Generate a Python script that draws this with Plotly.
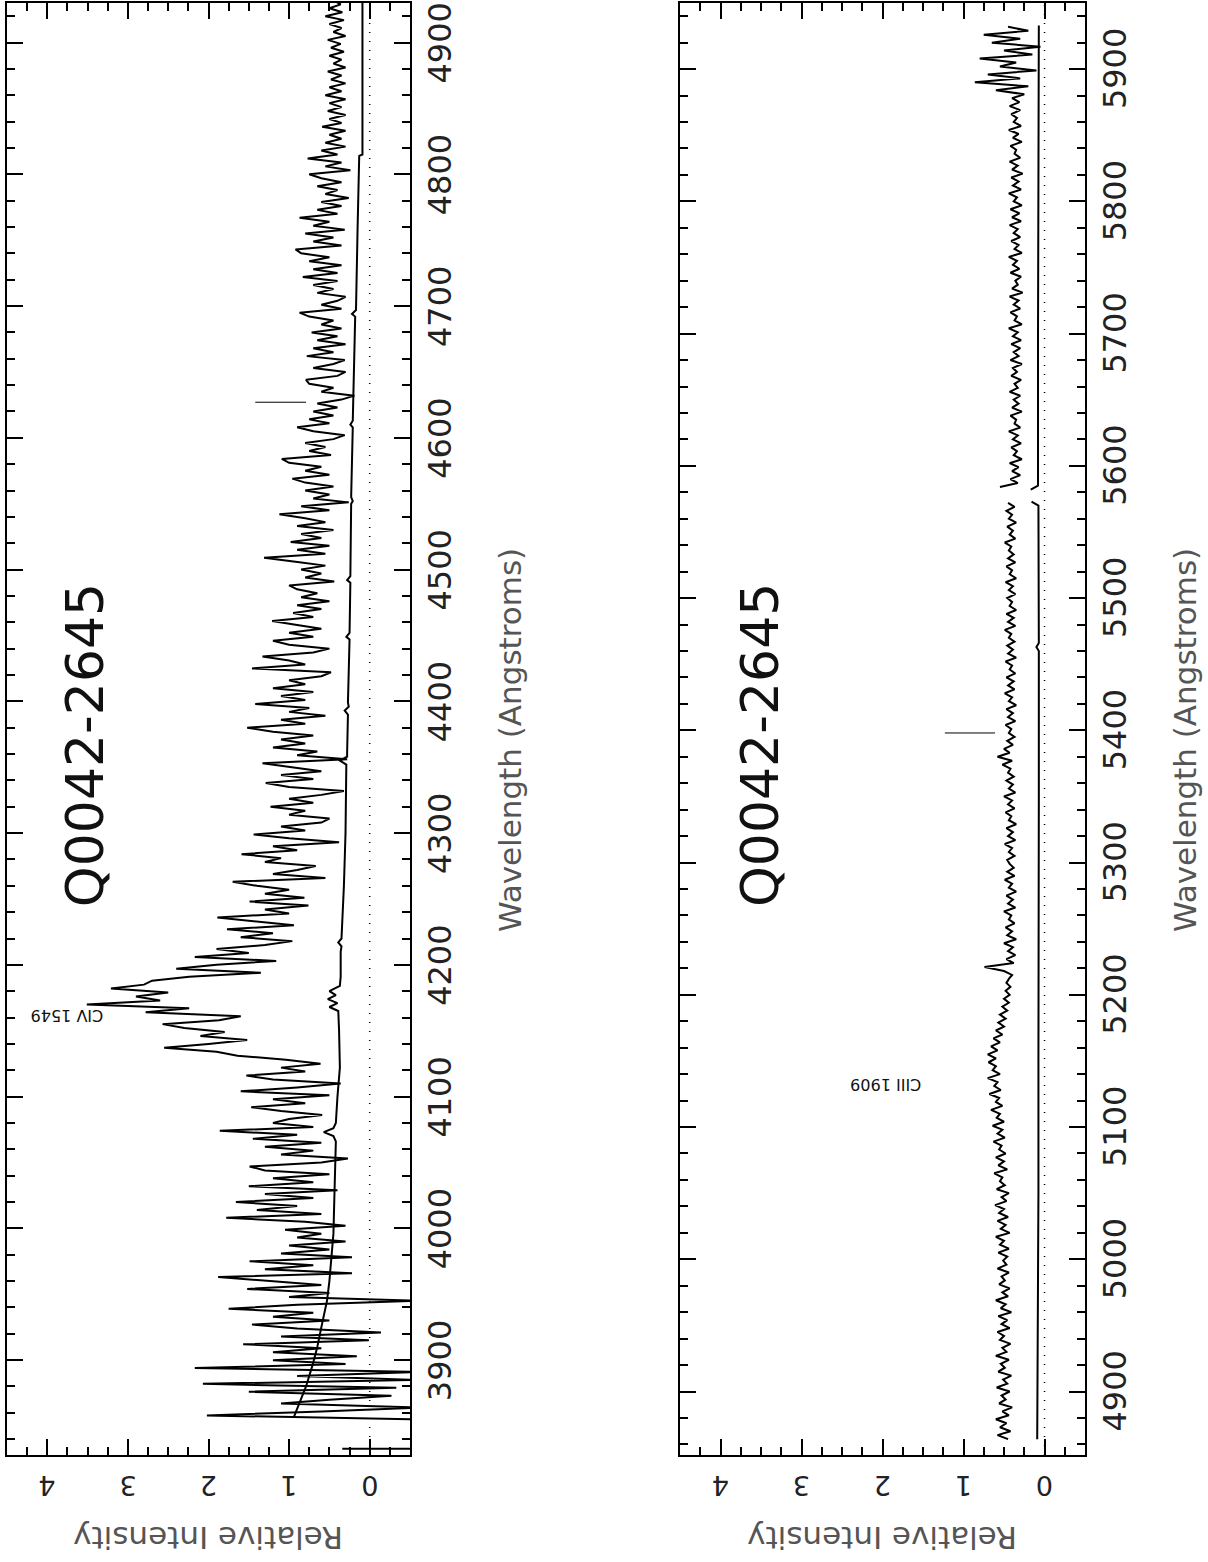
import plotly.graph_objects as go

# ---------------- DATA ----------------
STEP = 3.0
# Top panel flux, segments (start wavelength, values every 3 A)
TOP_A_START = 3855
TOP_A = [-0.6, 2.02, 0.6, -0.6, 1.1, 0.5, -0.27, 1.5, -0.33, 2.07, -0.6, 0.9, -0.6, 2.17, 0.3, 1.2]
TOP_B_START = 3903
TOP_B = [0.16, 1.2, 0.6, 1.57, 0.01, 1.1, -0.14, 0.9, 1.46, 0.5, 1.2, 0.7, 1.75, 0.9, -0.6, 1.0, 0.5, 1.52, 0.6, 1.3]
TOP_C_START = 3963
TOP_C = [1.88, 0.22, 1.3, 0.7, 1.49, 0.22, 1.1, 0.5, 1.0, 0.3, 0.9, 0.6, 1.05, 0.3, 0.8, 1.78, 0.6, 1.4, 0.9, 1.66, 0.7, 1.3, 0.4]
TOP_D_START = 4032
TOP_D = [1.5, 0.7, 1.2, 0.5, 1.3, 1.49, 0.6, 0.27, 1.1, 0.7, 1.3, 0.6, 1.45, 0.9, 1.86, 0.7, 1.2, 1.0, 0.59, 1.1, 1.47, 0.8, 1.2, 0.5]
TOP_E_START = 4104
TOP_E = [1.6, 0.9, 0.36, 1.2, 1.53, 0.8, 1.1, 0.61, 1.04]
TOP_F_START = 4131
TOP_F = [1.64, 1.9, 2.55, 2.0, 1.52, 2.1, 1.8, 2.3, 2.57, 1.87, 1.6, 2.78, 2.24, 3.51, 2.6, 2.9, 2.5, 3.21, 2.8, 2.7, 2.24, 1.35, 2.4, 1.9]
TOP_G_START = 4203
TOP_G = [1.16, 2.17, 1.5, 1.9, 1.3, 0.96, 1.6, 1.2, 1.77, 0.94, 1.4, 1.89, 1.0]
TOP_H_START = 4242
TOP_H = [1.3, 0.76, 1.49, 0.81, 1.3, 1.0, 1.4, 1.7, 0.55, 1.2, 0.9, 0.67, 1.3, 1.1, 1.59, 0.9, 1.2]
TOP_I_START = 4293
TOP_I = [0.38, 1.0, 1.44, 0.8, 1.1, 0.6, 0.5, 1.0, 0.8, 1.23, 0.7, 1.0, 0.6, 0.32, 1.0, 1.29, 0.7, 1.1, 0.6, 1.0, 1.33, 0.28, 0.9]
TOP_J_START = 4362
TOP_J = [0.65, 1.2, 0.8, 1.1, 0.7, 1.2, 1.52, 0.8, 1.1, 0.55, 1.0, 0.75, 1.42, 0.8, 1.1, 0.7, 1.2, 0.8, 1.0, 0.6, 0.48, 1.46, 0.8, 1.0]
TOP_K_START = 4434
TOP_K = [1.33, 0.7, 0.5, 1.0, 1.2, 0.7, 1.0, 0.6, 0.9, 1.21, 0.7, 0.95, 0.6, 0.9, 0.5, 0.85, 0.65, 0.9, 1.0, 0.44, 0.8, 0.6, 0.85, 0.55, 0.92]
TOP_L_START = 4509
TOP_L = [1.31, 0.55, 0.9, 0.5, 0.98, 0.6, 0.85, 0.45, 0.9, 0.55, 0.8, 1.12, 0.5, 0.85, 0.26, 0.7, 0.5, 0.8, 0.45]
TOP_M_START = 4566
TOP_M = [0.8, 0.96, 0.5, 0.8, 0.6, 1.0, 1.09, 0.48, 0.75, 0.55, 0.8, 0.45, 0.31, 0.7, 0.9, 0.5, 0.75, 0.45, 0.7, 0.4, 0.65, 0.35, 0.19, 0.6, 0.45, 0.75]
TOP_N_START = 4644
TOP_N = [0.79, 0.4, 0.3, 0.7, 0.45, 0.31, 0.78, 0.45, 0.7, 0.3, 0.65, 0.4, 0.72, 0.35, 0.6, 0.45, 0.75, 0.87, 0.35, 0.6, 0.4, 0.3, 0.65, 0.45, 0.7, 0.4]
TOP_O_START = 4722
TOP_O = [0.83, 0.4, 0.7, 0.35, 0.75, 0.5, 0.85, 0.92, 0.35, 0.7, 0.45, 0.8, 0.31, 0.7, 0.5, 0.87, 0.4, 0.65, 0.35, 0.6, 0.26, 0.55, 0.4, 0.65, 0.35, 0.6, 0.75]
TOP_P_START = 4803
TOP_P = [0.24, 0.55, 0.35, 0.77, 0.4, 0.6, 0.3, 0.55, 0.35, 0.5, 0.3, 0.59, 0.35, 0.5, 0.3, 0.52, 0.35, 0.5, 0.3, 0.55]
TOP_Q_START = 4863
TOP_Q = [0.35, 0.5, 0.3, 0.48, 0.35, 0.52, 0.3, 0.45, 0.35, 0.5, 0.32, 0.48, 0.36, 0.52, 0.3, 0.45, 0.35, 0.5, 0.32, 0.55, 0.34, 0.5, 0.36, 0.45]

# Top panel error / continuum trace
TOP_ERR_WAVE = [3857, 3870, 3880, 3896, 3910, 3925, 3945, 3960, 3975, 3996, 4020, 4045, 4066, 4070, 4073, 4076,
                4080, 4100, 4122, 4150, 4165, 4168, 4171, 4174, 4177, 4180, 4184, 4191, 4210, 4214, 4217, 4220,
                4260, 4300, 4340, 4352, 4355, 4358, 4361, 4390, 4393, 4396, 4399, 4447, 4449, 4452, 4490, 4492,
                4495, 4550, 4552, 4555, 4608, 4610, 4613, 4660, 4692, 4694, 4697, 4760, 4814, 4815, 4932]
TOP_ERR_VAL = [0.94, 0.85, 0.79, 0.71, 0.65, 0.6, 0.53, 0.5, 0.48, 0.45, 0.44, 0.43, 0.42, 0.45, 0.57, 0.45,
               0.42, 0.40, 0.37, 0.38, 0.39, 0.5, 0.4, 0.52, 0.42, 0.5, 0.37, 0.36, 0.36, 0.35, 0.39, 0.35,
               0.32, 0.30, 0.29, 0.29, 0.37, 0.28, 0.28, 0.27, 0.31, 0.26, 0.27, 0.25, 0.29, 0.25, 0.24, 0.28,
               0.24, 0.23, 0.21, 0.23, 0.21, 0.24, 0.21, 0.19, 0.18, 0.22, 0.17, 0.15, 0.13, 0.09, 0.09]
TOP_STUB_WAVE = [3832.7, 3832.7]
TOP_STUB_VAL = [0.34, -0.6]

# Bottom panel flux segments
BOT_1_START = 4864
BOT_1 = [0.45, 0.58, 0.42, 0.55, 0.47, 0.6, 0.44, 0.52, 0.4, 0.56, 0.48, 0.53, 0.43, 0.59, 0.46, 0.51,
         0.41, 0.57, 0.49, 0.54, 0.44, 0.6, 0.47, 0.52, 0.42, 0.55, 0.5, 0.58, 0.43, 0.53, 0.46, 0.57,
         0.41, 0.54, 0.48, 0.6, 0.45, 0.52, 0.43, 0.56, 0.49, 0.53, 0.44, 0.58, 0.47, 0.51]
BOT_2_START = 5002
BOT_2 = [0.46, 0.57, 0.44, 0.55, 0.5, 0.6, 0.43, 0.54, 0.48, 0.58, 0.45, 0.56, 0.5, 0.61, 0.47, 0.53,
         0.44, 0.59, 0.49, 0.55, 0.52, 0.62, 0.46, 0.57, 0.5, 0.6, 0.48, 0.56, 0.53, 0.63, 0.49, 0.58,
         0.52, 0.64, 0.5, 0.59, 0.55, 0.66, 0.52, 0.6, 0.56, 0.68, 0.54, 0.62, 0.58, 0.7, 0.55, 0.64, 0.6, 0.69]
BOT_3_START = 5152
BOT_3 = [0.6, 0.7, 0.58, 0.66, 0.55, 0.63, 0.52, 0.6, 0.5, 0.57, 0.48, 0.55, 0.46, 0.52, 0.44, 0.5,
         0.43, 0.48, 0.42, 0.47]
BOT_4_START = 5212
BOT_4 = [0.44, 0.4, 0.5, 0.74, 0.38, 0.47, 0.36, 0.45, 0.39, 0.5, 0.35, 0.46, 0.4, 0.48, 0.37, 0.44,
         0.41, 0.5, 0.36, 0.45, 0.39, 0.47, 0.35, 0.44, 0.4, 0.49, 0.37, 0.46, 0.38, 0.43]
BOT_5_START = 5302
BOT_5 = [0.46, 0.37, 0.44, 0.4, 0.49, 0.36, 0.45, 0.39, 0.47, 0.35, 0.44, 0.41, 0.48, 0.37, 0.45, 0.4,
         0.5, 0.36, 0.44, 0.39, 0.47, 0.38, 0.45, 0.42, 0.52, 0.4, 0.58, 0.43, 0.5, 0.39, 0.46, 0.37, 0.44]
BOT_6_START = 5401
BOT_6 = [0.41, 0.48, 0.36, 0.45, 0.39, 0.47, 0.35, 0.44, 0.4, 0.49, 0.37, 0.45, 0.38, 0.47, 0.36, 0.43,
         0.4, 0.48, 0.35, 0.45, 0.39, 0.46, 0.37, 0.44, 0.41, 0.49, 0.36, 0.45, 0.38, 0.47, 0.35, 0.43, 0.4]
BOT_7_START = 5500
BOT_7 = [0.46, 0.36, 0.44, 0.39, 0.48, 0.35, 0.43, 0.4, 0.47, 0.36, 0.45, 0.38, 0.44, 0.41, 0.49, 0.36,
         0.43, 0.39, 0.46, 0.35, 0.44, 0.4, 0.47, 0.37, 0.45]
BOT_8_START = 5584
BOT_8 = [0.55, 0.33, 0.42, 0.3, 0.4, 0.32, 0.43, 0.28, 0.38, 0.34, 0.41, 0.29, 0.39, 0.33, 0.44, 0.3,
         0.37, 0.35, 0.42, 0.28, 0.4, 0.32, 0.38, 0.3, 0.43, 0.33, 0.37, 0.29, 0.41, 0.34, 0.39, 0.28,
         0.42, 0.32, 0.38, 0.3]
BOT_9_START = 5692
BOT_9 = [0.41, 0.29, 0.39, 0.33, 0.44, 0.28, 0.37, 0.34, 0.42, 0.3, 0.38, 0.32, 0.43, 0.27, 0.4, 0.33,
         0.36, 0.29, 0.42, 0.31, 0.39, 0.34, 0.44, 0.28, 0.37, 0.32, 0.41, 0.3, 0.38, 0.33, 0.43, 0.29, 0.4]
BOT_10_START = 5791
BOT_10 = [0.31, 0.42, 0.28, 0.38, 0.34, 0.44, 0.29, 0.39, 0.32, 0.41, 0.27, 0.4, 0.33, 0.43, 0.3, 0.37,
          0.35, 0.42, 0.28, 0.39, 0.32, 0.44, 0.29, 0.38, 0.34, 0.41, 0.3, 0.43, 0.31, 0.4]
BOT_11_START = 5881
BOT_11 = [0.25, 0.6, 0.2, 0.86, 0.3, 0.7, 0.1, 0.55, 0.35, 0.8, 0.15, 0.5, 0.05, 0.65, 0.3, 0.75, 0.2, 0.45]

BOT_ERR_WAVE = [4864, 4950, 5050, 5150, 5250, 5350, 5460, 5463, 5466, 5570, 5573, None,
                5582, 5585, 5700, 5800, 5880, 5933]
BOT_ERR_VAL = [0.09, 0.08, 0.075, 0.075, 0.07, 0.07, 0.07, 0.1, 0.07, 0.075, 0.16, None,
               0.17, 0.08, 0.08, 0.075, 0.075, 0.07]

# Labels / annotations
TITLE = "Q0042-2645"
X_TITLE = "Relative Intensity"
Y_TITLE = "Wavelength (Angstroms)"
INT_TICKS = [0, 1, 2, 3, 4]
TOP_WAVE_TICKS = [3900, 4000, 4100, 4200, 4300, 4400, 4500, 4600, 4700, 4800, 4900]
BOT_WAVE_TICKS = [4900, 5000, 5100, 5200, 5300, 5400, 5500, 5600, 5700, 5800, 5900]
TOP_LINE_LABEL = "CIV 1549"
TOP_LINE_LABEL_POS = (3.76, 4162)
BOT_LINE_LABEL = "CIII 1909"
BOT_LINE_LABEL_POS = (1.955, 5132)
TOP_MARK_WAVE = 4627
TOP_MARK_INT = [0.79, 1.42]
BOT_MARK_WAVE = 5398
BOT_MARK_INT = [0.61, 1.23]
TOP_TITLE_POS = (3.54, 4367)
BOT_TITLE_POS = (3.51, 5389)
INT_RANGE = [4.5, -0.5]
TOP_WAVE_RANGE = [3828, 4930]
BOT_WAVE_RANGE = [4852, 5950]

# ---------------- BUILD ----------------
def build(segments):
    w, v = [], []
    for start, vals in segments:
        for i, val in enumerate(vals):
            w.append(start + STEP * i)
            v.append(val)
    return w, v

top_w, top_v = build([(TOP_A_START, TOP_A), (TOP_B_START, TOP_B), (TOP_C_START, TOP_C), (TOP_D_START, TOP_D),
                      (TOP_E_START, TOP_E), (TOP_F_START, TOP_F), (TOP_G_START, TOP_G), (TOP_H_START, TOP_H),
                      (TOP_I_START, TOP_I), (TOP_J_START, TOP_J), (TOP_K_START, TOP_K), (TOP_L_START, TOP_L),
                      (TOP_M_START, TOP_M), (TOP_N_START, TOP_N), (TOP_O_START, TOP_O), (TOP_P_START, TOP_P),
                      (TOP_Q_START, TOP_Q)])
b1w, b1v = build([(BOT_1_START, BOT_1), (BOT_2_START, BOT_2), (BOT_3_START, BOT_3), (BOT_4_START, BOT_4),
                  (BOT_5_START, BOT_5), (BOT_6_START, BOT_6), (BOT_7_START, BOT_7)])
b2w, b2v = build([(BOT_8_START, BOT_8), (BOT_9_START, BOT_9), (BOT_10_START, BOT_10), (BOT_11_START, BOT_11)])
bot_w = b1w + [None] + b2w
bot_v = b1v + [None] + b2v

W, H = 1208, 1562
FONT = "DejaVu Sans"
BLACK = "#000000"

fig = go.Figure()
LW = 2.0
# top panel
fig.add_trace(go.Scatter(x=top_v, y=top_w, mode="lines", line=dict(color=BLACK, width=LW), xaxis="x", yaxis="y"))
fig.add_trace(go.Scatter(x=TOP_ERR_VAL, y=TOP_ERR_WAVE, mode="lines", line=dict(color=BLACK, width=LW), xaxis="x", yaxis="y"))
fig.add_trace(go.Scatter(x=TOP_STUB_VAL, y=TOP_STUB_WAVE, mode="lines", line=dict(color=BLACK, width=LW), xaxis="x", yaxis="y"))
fig.add_trace(go.Scatter(x=TOP_MARK_INT, y=[TOP_MARK_WAVE] * 2, mode="lines", line=dict(color=BLACK, width=1), xaxis="x", yaxis="y"))
# bottom panel
fig.add_trace(go.Scatter(x=bot_v, y=bot_w, mode="lines", line=dict(color=BLACK, width=LW), xaxis="x2", yaxis="y2", connectgaps=False))
fig.add_trace(go.Scatter(x=BOT_ERR_VAL, y=BOT_ERR_WAVE, mode="lines", line=dict(color=BLACK, width=LW), xaxis="x2", yaxis="y2", connectgaps=False))
fig.add_trace(go.Scatter(x=BOT_MARK_INT, y=[BOT_MARK_WAVE] * 2, mode="lines", line=dict(color=BLACK, width=1), xaxis="x2", yaxis="y2"))

Y0 = 1 - 1455 / H
Y1 = 1 - 3 / H
TOP_DOM = [7 / W, 410 / W]
BOT_DOM = [680 / W, 1085 / W]

def xaxis_cfg(dom, anchor):
    return dict(domain=dom, anchor=anchor, range=INT_RANGE, showgrid=False, zeroline=False, automargin=False,
                showline=True, linecolor=BLACK, linewidth=2, mirror="ticks",
                ticks="inside", ticklen=16, tickwidth=2, tickcolor=BLACK,
                tickvals=INT_TICKS, showticklabels=False,
                minor=dict(dtick=0.25, tick0=0, ticks="inside", ticklen=8, tickwidth=2, tickcolor=BLACK, showgrid=False))

def yaxis_cfg(rng, ticks, anchor):
    return dict(domain=[Y0, Y1], anchor=anchor, range=rng, side="right", showgrid=False, zeroline=False,
                automargin=False,
                showline=True, linecolor=BLACK, linewidth=2, mirror="ticks",
                ticks="inside", ticklen=16, tickwidth=2, tickcolor=BLACK,
                tickvals=ticks, showticklabels=False,
                minor=dict(dtick=20, tick0=0, ticks="inside", ticklen=8, tickwidth=2, tickcolor=BLACK, showgrid=False))

fig.update_layout(
    width=W, height=H, margin=dict(l=0, r=0, t=0, b=0, autoexpand=False), paper_bgcolor="white", plot_bgcolor="white",
    showlegend=False,
    xaxis=xaxis_cfg(TOP_DOM, "y"), yaxis=yaxis_cfg(TOP_WAVE_RANGE, TOP_WAVE_TICKS, "x"),
    xaxis2=xaxis_cfg(BOT_DOM, "y2"), yaxis2=yaxis_cfg(BOT_WAVE_RANGE, BOT_WAVE_TICKS, "x2"),
)

# dotted zero lines
for xr, yr in (("x", "y domain"), ("x2", "y2 domain")):
    fig.add_shape(type="line", xref=xr, yref=yr, x0=0, x1=0, y0=0, y1=1,
                  line=dict(color=BLACK, width=1.5, dash="1px,8px"))

anns = []
# tick labels (rotated, as in the reference)
for xr in ("x", "x2"):
    for t in INT_TICKS:
        anns.append(dict(x=t, y=1 - 1486 / H, xref=xr, yref="paper", text=str(t), showarrow=False,
                         textangle=180, xanchor="center", yanchor="middle",
                         font=dict(family=FONT, size=27, color="#222")))
for yr, ticks, px in (("y", TOP_WAVE_TICKS, 440), ("y2", BOT_WAVE_TICKS, 1115)):
    for t in ticks:
        anns.append(dict(x=px / W, y=t, xref="paper", yref=yr, text=str(t), showarrow=False,
                         textangle=-90, xanchor="center", yanchor="middle",
                         font=dict(family=FONT, size=32, color="#222")))
for xr, yr, pos in (("x", "y", TOP_TITLE_POS), ("x2", "y2", BOT_TITLE_POS)):
    anns.append(dict(x=pos[0], y=pos[1], xref=xr, yref=yr, text=TITLE, showarrow=False, textangle=-90,
                     xanchor="center", yanchor="middle", font=dict(family=FONT, size=52, color="#111")))
lp = [(TOP_LINE_LABEL_POS, TOP_LINE_LABEL, "x", "y"), (BOT_LINE_LABEL_POS, BOT_LINE_LABEL, "x2", "y2")]
for pos, lab, xr, yr in lp:
    anns.append(dict(x=pos[0], y=pos[1], xref=xr, yref=yr, text=lab, showarrow=False, textangle=180,
                     xanchor="center", yanchor="middle", font=dict(family=FONT, size=16, color="#111")))
for px in (510, 1185):
    anns.append(dict(x=px / W, y=1 - 740 / H, xref="paper", yref="paper", text=Y_TITLE, showarrow=False,
                     xanchor="center", yanchor="middle",
                     textangle=-90, font=dict(family=FONT, size=31, color="#555")))
for xr in ("x domain", "x2 domain"):
    anns.append(dict(x=0.5, y=1 - 1538 / H, xref=xr, yref="paper", text=X_TITLE, showarrow=False,
                     xanchor="center", yanchor="middle",
                     textangle=180, font=dict(family=FONT, size=31, color="#555")))
fig.update_layout(annotations=anns)

fig.write_html("out.html", config={"displayModeBar": False},
               post_script="document.body.style.margin='0';document.body.style.overflow='hidden';")
